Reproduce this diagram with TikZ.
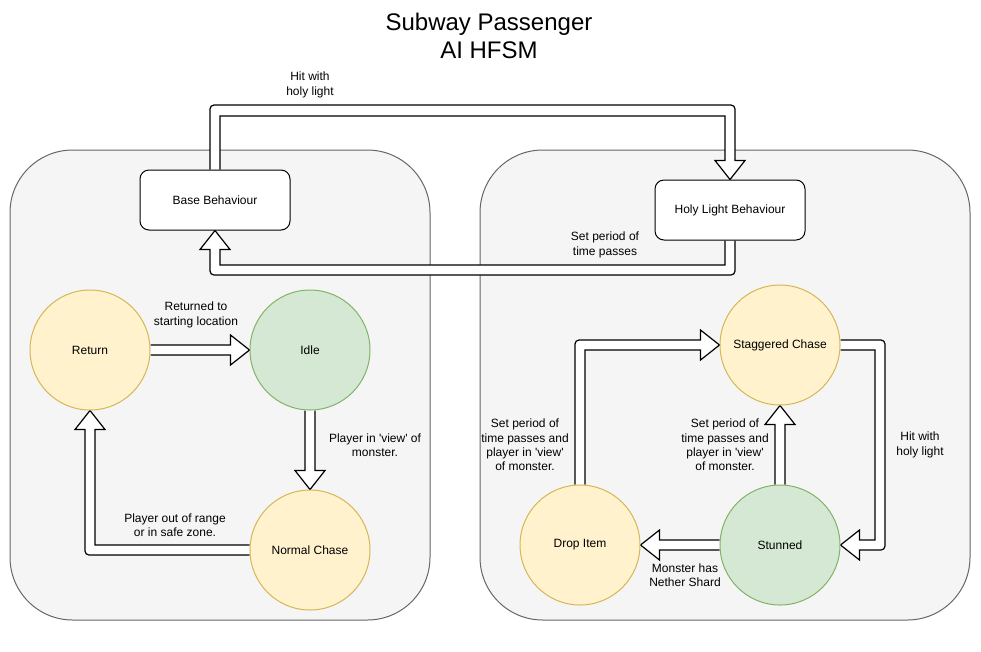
\documentclass[tikz,border=0pt]{standalone}
\usepackage{fontspec}
\setmainfont{Liberation Sans}
\usetikzlibrary{calc}
\pgfdeclarelayer{bgc}
\pgfdeclarelayer{bga}
\pgfsetlayers{bgc,bga,main}
\definecolor{contfill}{HTML}{F5F5F5}
\definecolor{contdraw}{HTML}{666666}
\definecolor{yfill}{HTML}{FFF2CC}
\definecolor{ydraw}{HTML}{D6B656}
\definecolor{gfill}{HTML}{D5E8D4}
\definecolor{gdraw}{HTML}{82B366}
\begin{document}
\begin{tikzpicture}[x=0.75pt,y=-0.75pt,
  txt/.style={font=\fontsize{9}{10.8}\selectfont, align=center, text=black},
  container/.style={draw=contdraw, fill=contfill, line width=0.75pt, rounded corners=47pt, inner sep=0pt},
  behav/.style={txt, draw=black, fill=white, rounded corners=6.75pt, minimum width=112.5pt, minimum height=45pt, inner sep=0pt, line width=0.75pt},
  ystate/.style={txt, circle, draw=ydraw, fill=yfill, minimum size=90pt, inner sep=0pt, line width=0.75pt},
  gstate/.style={txt, circle, draw=gdraw, fill=gfill, minimum size=90pt, inner sep=0pt, line width=0.75pt},
  flex/.style={draw=black, fill=white, line width=0.9pt, line join=miter, miter limit=10},
  lbl/.style={txt, inner sep=0pt}]
\useasboundingbox (0,0) rectangle (981,651);

\node[font=\fontsize{18}{21}\selectfont, align=center] (title) at (489,36) {Subway Passenger\\AI HFSM};

\begin{pgfonlayer}{bgc}
\node[container, minimum width=315pt, minimum height=352.5pt] (lgroup) at (220,385) {};
\node[container, minimum width=367.5pt, minimum height=352.5pt] (rgroup) at (725,385) {};
\end{pgfonlayer}

\node[behav] (base) at (215,200) {Base Behaviour};
\node[behav] (holy) at (730,210) {Holy Light Behaviour};
\node[ystate] (ret) at (90,350) {Return};
\node[gstate] (idle) at (310,350) {Idle};
\node[ystate] (nchase) at (310,550) {Normal Chase};
\node[ystate] (stag) at (780,345) {Staggered Chase};
\node[gstate] (stun) at (780,545) {Stunned};
\node[ystate] (drop) at (580,545) {Drop Item};

\coordinate (ytop) at (0,110.5);
\coordinate (ybot) at (0,270);
\coordinate (xright) at (880,0);

\begin{pgfonlayer}{bga}
% Base -> Holy
\filldraw[flex] ($(base.north)+(-5,0)$) [rounded corners=3pt] -- ($(base.north |- ytop)+(-5,-5.5)$) -- ($(holy.north |- ytop)+(5,-5.5)$) [sharp corners] -- ($(holy.north)+(5,-19)$) -- ($(holy.north)+(15,-19)$) -- (holy.north) -- ($(holy.north)+(-15,-19)$) -- ($(holy.north)+(-5,-19)$) -- ($(holy.north |- ytop)+(-5,5.5)$) -- ($(base.north |- ytop)+(5,5.5)$) -- ($(base.north)+(5,0)$);
% Holy -> Base
\filldraw[flex] ($(holy.south)+(5,0)$) [rounded corners=3pt] -- ($(holy.south |- ybot)+(5,5)$) -- ($(base.south |- ybot)+(-5,5)$) [sharp corners] -- ($(base.south)+(-5,19)$) -- ($(base.south)+(-15,19)$) -- (base.south) -- ($(base.south)+(15,19)$) -- ($(base.south)+(5,19)$) -- ($(base.south |- ybot)+(5,-5)$) -- ($(holy.south |- ybot)+(-5,-5)$) -- ($(holy.south)+(-5,0)$);
% Return -> Idle
\filldraw[flex] ($(ret.east)+(0,-5)$) -- ($(idle.west)+(-19,-5)$) -- ($(idle.west)+(-19,-15)$) -- (idle.west) -- ($(idle.west)+(-19,15)$) -- ($(idle.west)+(-19,5)$) -- ($(ret.east)+(0,5)$);
% Idle -> Normal Chase
\filldraw[flex] ($(idle.south)+(-5,0)$) -- ($(nchase.north)+(-5,-19)$) -- ($(nchase.north)+(-15,-19)$) -- (nchase.north) -- ($(nchase.north)+(15,-19)$) -- ($(nchase.north)+(5,-19)$) -- ($(idle.south)+(5,0)$);
% Normal Chase -> Return
\filldraw[flex] ($(nchase.west)+(0,5)$) [rounded corners=3pt] -- ($(ret.south |- nchase.west)+(-5,5)$) [sharp corners] -- ($(ret.south)+(-5,19)$) -- ($(ret.south)+(-15,19)$) -- (ret.south) -- ($(ret.south)+(15,19)$) -- ($(ret.south)+(5,19)$) -- ($(ret.south |- nchase.west)+(5,-5)$) -- ($(nchase.west)+(0,-5)$);
% Drop -> Staggered
\filldraw[flex] ($(drop.north)+(-5,0)$) [rounded corners=3pt] -- ($(drop.north |- stag.west)+(-5,-5)$) [sharp corners] -- ($(stag.west)+(-19,-5)$) -- ($(stag.west)+(-19,-15)$) -- (stag.west) -- ($(stag.west)+(-19,15)$) -- ($(stag.west)+(-19,5)$) -- ($(drop.north |- stag.west)+(5,5)$) -- ($(drop.north)+(5,0)$);
% Staggered -> Stunned
\filldraw[flex] ($(stag.east)+(0,-5)$) [rounded corners=3pt] -- ($(xright |- stag.east)+(5,-5)$) -- ($(xright |- stun.east)+(5,5)$) [sharp corners] -- ($(stun.east)+(19,5)$) -- ($(stun.east)+(19,15)$) -- (stun.east) -- ($(stun.east)+(19,-15)$) -- ($(stun.east)+(19,-5)$) -- ($(xright |- stun.east)+(-5,-5)$) -- ($(xright |- stag.east)+(-5,5)$) -- ($(stag.east)+(0,5)$);
% Stunned -> Staggered
\filldraw[flex] ($(stun.north)+(-5,0)$) -- ($(stag.south)+(-5,19)$) -- ($(stag.south)+(-15,19)$) -- (stag.south) -- ($(stag.south)+(15,19)$) -- ($(stag.south)+(5,19)$) -- ($(stun.north)+(5,0)$);
% Stunned -> Drop
\filldraw[flex] ($(stun.west)+(0,-5)$) -- ($(drop.east)+(19,-5)$) -- ($(drop.east)+(19,-15)$) -- (drop.east) -- ($(drop.east)+(19,15)$) -- ($(drop.east)+(19,5)$) -- ($(stun.west)+(0,5)$);
\end{pgfonlayer}

\node[lbl] (l1) at (310,85) {Hit with\\holy light};
\node[lbl] (l2) at (605,245) {Set period of\\time passes};
\node[lbl] (l3) at (196,315) {Returned to\\starting location};
\node[lbl] (l4) at (375,445) {Player in \textquotesingle view\textquotesingle{} of\\monster.};
\node[lbl] (l5) at (175,525) {Player out of range\\or in safe zone.};
\node[lbl] (l6) at (525,445) {Set period of\\time passes and\\player in \textquotesingle view\textquotesingle\\of monster.};
\node[lbl] (l7) at (725,445) {Set period of\\time passes and\\player in \textquotesingle view\textquotesingle\\of monster.};
\node[lbl] (l8) at (920,445) {Hit with\\holy light};
\node[lbl] (l9) at (685,575) {Monster has\\Nether Shard};
\end{tikzpicture}
\end{document}
